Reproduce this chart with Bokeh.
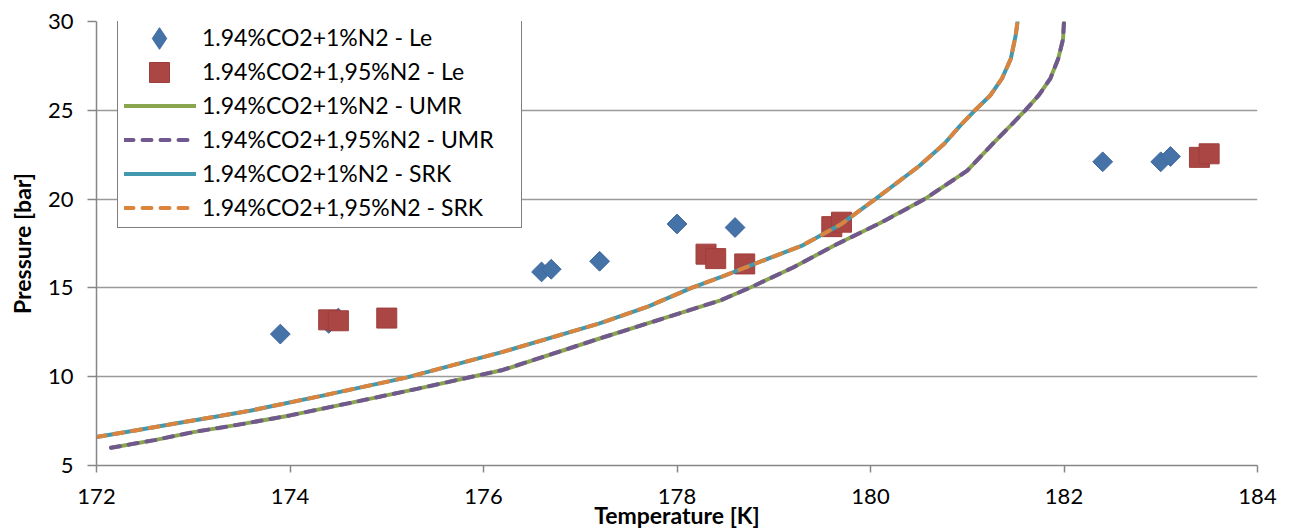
import math
from bokeh.plotting import figure
from bokeh.models import Range1d, FixedTicker, Legend, LegendItem, ColumnDataSource
from bokeh.embed import file_html
from bokeh.resources import INLINE

# Experimental data (Le)
le_1n2_T = [173.9, 174.4, 174.5, 176.6, 176.7, 177.2, 178.0, 178.6, 182.4, 183.0, 183.1]
le_1n2_P = [12.4, 13.0, 13.3, 15.9, 16.05, 16.5, 18.6, 18.4, 22.1, 22.1, 22.4]
le_195n2_T = [174.4, 174.5, 175.0, 178.3, 178.4, 178.7, 179.6, 179.7, 183.4, 183.5]
le_195n2_P = [13.2, 13.15, 13.3, 16.9, 16.65, 16.35, 18.45, 18.7, 22.35, 22.55]

# Model curves
umr_T = [172.15, 172.6, 173.0, 173.5, 174.0, 174.6, 175.3, 176.2, 177.2, 177.9, 178.45, 178.77,
         179.2, 179.63, 180.1, 180.56, 181.0, 181.26, 181.45, 181.6, 181.74, 181.86, 181.94,
         181.99, 182.0]
umr_P = [6.0, 6.43, 6.88, 7.33, 7.82, 8.5, 9.3, 10.38, 12.15, 13.35, 14.3, 15.05,
         16.15, 17.4, 18.65, 20.0, 21.6, 23.1, 24.15, 25.0, 25.85, 26.8, 27.9,
         29.0, 30.0]
srk_T = [172.0, 172.4, 172.8, 173.2, 173.6, 174.35, 175.2, 176.2, 177.2, 177.7, 178.15, 178.45,
         178.8, 179.3, 179.7, 180.05, 180.5, 180.76, 180.93, 181.08, 181.24, 181.36, 181.45,
         181.5, 181.52]
srk_P = [6.6, 6.97, 7.35, 7.72, 8.1, 8.95, 9.95, 11.4, 13.0, 13.95, 15.0, 15.6,
         16.35, 17.4, 18.6, 20.0, 21.85, 23.1, 24.15, 25.0, 25.85, 26.8, 27.9,
         29.2, 30.0]

x_ticks = [172, 174, 176, 178, 180, 182, 184]
y_ticks = [5, 10, 15, 20, 25, 30]

labels = ["1.94%CO2+1%N2 - Le", "1.94%CO2+1,95%N2 - Le", "1.94%CO2+1%N2 - UMR",
          "1.94%CO2+1,95%N2 - UMR", "1.94%CO2+1%N2 - SRK", "1.94%CO2+1,95%N2 - SRK"]

FONT = "Lato"
BLUE, BLUE_EDGE = "#4572A7", "#3E68A0"
RED, RED_EDGE = "#AA4643", "#9E3F3C"

p = figure(width=1294, height=531, output_backend="svg", toolbar_location=None,
           x_range=Range1d(172, 184), y_range=Range1d(5, 30),
           min_border_left=96, min_border_right=37, min_border_top=21, min_border_bottom=66)
p.outline_line_color = None
p.background_fill_color = "white"
p.border_fill_color = "white"

s_d = ColumnDataSource(dict(x=le_1n2_T, y=le_1n2_P))
s_s = ColumnDataSource(dict(x=le_195n2_T, y=le_195n2_P))
r1 = p.scatter("x", "y", source=s_d, marker="square", size=14, angle=math.pi / 4,
               fill_color=BLUE, line_color=BLUE_EDGE, line_width=1)
r2 = p.scatter("x", "y", source=s_s, marker="square", size=20,
               fill_color=RED, line_color=RED_EDGE, line_width=1)
# hidden twin of the diamond series, used only for its legend key
# (legend markers are never rotated, so the rotated square cannot serve)
r1_key = p.scatter("x", "y", source=s_d, marker="diamond", size=14,
                   fill_color=BLUE, line_color=BLUE_EDGE, line_width=1, visible=False)

r3 = p.line(umr_T, umr_P, line_color="#89A54E", line_width=4, line_cap="round", line_join="round")
r4 = p.line(umr_T, umr_P, line_color="#71588F", line_width=4, line_dash="9 9", line_cap="round", line_join="round")
r5 = p.line(srk_T, srk_P, line_color="#4198AF", line_width=4, line_cap="round", line_join="round")
r6 = p.line(srk_T, srk_P, line_color="#DB843D", line_width=4, line_dash="9 9", line_cap="round", line_join="round")

# axes
p.xaxis.ticker = FixedTicker(ticks=x_ticks)
p.yaxis.ticker = FixedTicker(ticks=y_ticks)
p.xaxis.minor_tick_line_color = None
p.yaxis.minor_tick_line_color = None
for ax in (p.xaxis[0], p.yaxis[0]):
    ax.axis_line_color = "#868686"
    ax.axis_line_width = 1.5
    ax.major_tick_line_color = "#868686"
    ax.major_tick_line_width = 1.5
    ax.major_tick_in = 0
    ax.major_label_text_font = FONT
    ax.major_label_text_font_size = "22px"
    ax.major_label_text_color = "black"
    ax.axis_label_text_font = FONT
    ax.axis_label_text_font_style = "bold"
    ax.axis_label_text_font_size = "23px"
    ax.axis_label_text_color = "black"
p.xaxis.axis_label = "Temperature [K]"
p.yaxis.axis_label = "Pressure [bar]"
p.xaxis.major_tick_out = 7
p.yaxis.major_tick_out = 9
p.xaxis.major_label_standoff = 16
p.yaxis.major_label_standoff = 14
p.xaxis.axis_label_standoff = -6
p.yaxis.axis_label_standoff = 9

p.xgrid.grid_line_color = None
p.ygrid.grid_line_color = "#9A9A9A"
p.ygrid.grid_line_width = 1.5

legend = Legend(items=[LegendItem(label=labels[0], renderers=[r1_key]),
                       LegendItem(label=labels[1], renderers=[r2]),
                       LegendItem(label=labels[2], renderers=[r3]),
                       LegendItem(label=labels[3], renderers=[r4]),
                       LegendItem(label=labels[4], renderers=[r5]),
                       LegendItem(label=labels[5], renderers=[r6])],
                location=(21, 237))
legend.padding = 6
legend.margin = 0
legend.spacing = 6
legend.glyph_width = 72
legend.glyph_height = 23
legend.label_height = 23
legend.label_width = 313
legend.label_standoff = 6
legend.label_text_font = FONT
legend.label_text_font_size = "23px"
legend.label_text_color = "black"
legend.border_line_color = "black"
legend.border_line_width = 1
legend.background_fill_color = "white"
legend.background_fill_alpha = 1
p.add_layout(legend, "center")

# larger legend markers drawn over the small default ones
def marker_overlay(renderer, box, loc):
    lg = Legend(items=[LegendItem(label=" ", renderers=[renderer])], location=loc)
    lg.padding = 0
    lg.margin = 0
    lg.glyph_width = 72
    lg.glyph_height = box
    lg.label_height = box
    lg.label_width = 1
    lg.label_standoff = 0
    lg.label_text_font_size = "1px"
    lg.border_line_color = None
    lg.background_fill_alpha = 0
    p.add_layout(lg, "center")

marker_overlay(r1_key, 54, (27, 400))
marker_overlay(r2, 50, (27, 368))

open("out.html", "w").write(file_html(p, INLINE))
